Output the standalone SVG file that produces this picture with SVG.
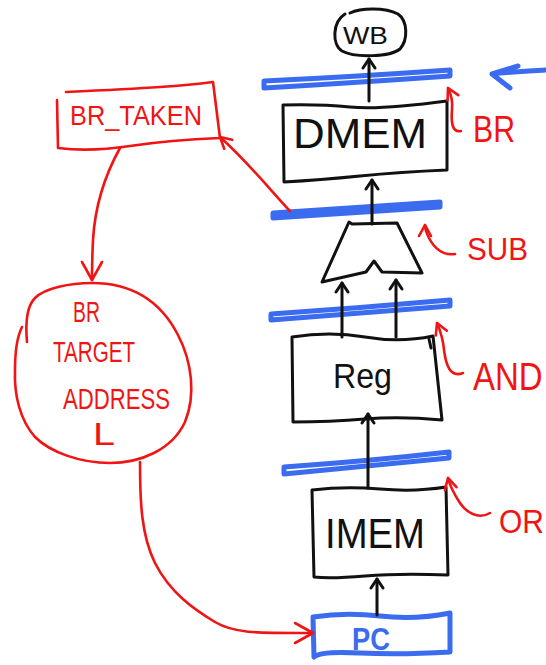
<svg xmlns="http://www.w3.org/2000/svg" width="546" height="665" viewBox="0 0 546 665">
  <style>
    .ink { fill: none; stroke: #111; stroke-width: 3; stroke-linecap: round; stroke-linejoin: round; }
    .red { fill: none; stroke: #f01414; stroke-width: 2.6; stroke-linecap: round; stroke-linejoin: round; }
    .blue { fill: none; stroke: #3b6cf0; stroke-width: 5; stroke-linecap: round; stroke-linejoin: round; }
    .bar { fill: #fff; stroke: #3b6cf0; stroke-width: 5; stroke-linejoin: round; }
    .t { font-family: "Liberation Sans", Arial, sans-serif; }
    .tk { fill: #111; }
    .tr { fill: #f01414; }
    .tb { fill: #3b6cf0; font-weight: bold; }
  </style>
  <defs>
    <marker id="ah-k" viewBox="-12 -9 15 18" refX="0" refY="0" markerWidth="15" markerHeight="18" markerUnits="userSpaceOnUse" orient="auto">
      <path d="M-9,-6 L0,0 L-9,6" fill="none" stroke="#111" stroke-width="3" stroke-linecap="round" stroke-linejoin="round"/>
    </marker>
    <marker id="ah-r" viewBox="-22 -13 25 26" refX="0" refY="0" markerWidth="25" markerHeight="26" markerUnits="userSpaceOnUse" orient="auto">
      <path d="M-18,-10 L0,0 L-18,10" fill="none" stroke="#f01414" stroke-width="2.6" stroke-linecap="round" stroke-linejoin="round"/>
    </marker>
    <marker id="ah-rs" viewBox="-14 -9 17 18" refX="0" refY="0" markerWidth="17" markerHeight="18" markerUnits="userSpaceOnUse" orient="auto">
      <path d="M-11,-6 L0,0 L-11,6" fill="none" stroke="#f01414" stroke-width="2.6" stroke-linecap="round" stroke-linejoin="round"/>
    </marker>
  </defs>

  <!-- pipeline registers -->
  <g id="pipe-reg-1"><path class="bar" d="M264,81 Q350,77 450,70 L450,76 Q350,83 264,88 Z"/></g>
  <g id="pipe-reg-2"><path class="bar" d="M273,213 Q360,207 440,202 L440,207 Q360,212 273,218 Z"/></g>
  <g id="pipe-reg-3"><path class="bar" d="M271,314 Q360,308 450,300 L450,306 Q360,313 271,320 Z"/></g>
  <g id="pipe-reg-4"><path class="bar" d="M284,467 Q370,461 449,452 L449,458 Q370,466 284,474 Z"/></g>

  <!-- write-back -->
  <g id="wb">
    <path class="ink" d="M350,13 C360,8 385,7 398,14 C408,21 408,40 400,49 C390,57 355,58 342,51 C332,45 332,22 345,14"/>
    <text class="t tk" x="343" y="44" font-size="23" textLength="45" lengthAdjust="spacingAndGlyphs">WB</text>
  </g>

  <!-- data memory -->
  <g id="dmem">
    <path class="ink" d="M283,105 Q320,104 350,107 T447,101 L447,170 Q400,172 360,176 T284,182 Z"/>
    <text class="t tk" x="293" y="148" font-size="42" textLength="134" lengthAdjust="spacingAndGlyphs">DMEM</text>
  </g>

  <!-- ALU -->
  <g id="alu">
    <path class="ink" d="M349,222 L352,224 L397,223 L422,273 L382,272 L374,261 L366,272 L322,282 Z"/>
  </g>

  <!-- register file -->
  <g id="reg">
    <path class="ink" d="M292,337 Q330,331 365,337 T433,336 L442,420 Q400,416 365,419 T293,422 Z"/>
    <path class="ink" d="M429,339 L431,348"/>
    <text class="t tk" x="333" y="388" font-size="35" textLength="59" lengthAdjust="spacingAndGlyphs">Reg</text>
  </g>

  <!-- instruction memory -->
  <g id="imem">
    <path class="ink" d="M312,490 Q345,486 380,489 T446,487 L448,575 Q400,573 365,576 T314,577 Z"/>
    <text class="t tk" x="325" y="548" font-size="42" textLength="100" lengthAdjust="spacingAndGlyphs">IMEM</text>
  </g>

  <!-- program counter -->
  <g id="pc">
    <path class="blue" d="M313,617 Q345,612 380,616 T450,613 L450,652 Q400,655 360,653 T314,657 Z"/>
    <text class="t tb" x="352" y="650" font-size="31" textLength="38" lengthAdjust="spacingAndGlyphs">PC</text>
  </g>

  <!-- branch taken -->
  <g id="br-taken">
    <path class="red" d="M57,100 L58,148 Q90,152 130,146 T220,138 L213,82 Q190,85 160,87 T66,92"/>
    <text class="t tr" x="70" y="125" font-size="28" textLength="132" lengthAdjust="spacingAndGlyphs">BR_TAKEN</text>
  </g>

  <!-- branch target address -->
  <g id="br-target">
    <path class="red" d="M27,342 C25,320 28,305 35,298 C45,288 70,283 92,283 C130,283 160,300 178,335 C192,362 196,395 185,422 C172,450 140,463 110,463 C80,463 50,452 35,437 C20,420 14,395 15,370 C15,350 18,335 22,327"/>
    <text class="t tr" x="73" y="322" font-size="29" textLength="27" lengthAdjust="spacingAndGlyphs">BR</text>
    <text class="t tr" x="53" y="362" font-size="29" textLength="82" lengthAdjust="spacingAndGlyphs">TARGET</text>
    <text class="t tr" x="63" y="409" font-size="30" textLength="107" lengthAdjust="spacingAndGlyphs">ADDRESS</text>
    <text class="t tr" x="93" y="445" font-size="32" textLength="22" lengthAdjust="spacingAndGlyphs">L</text>
  </g>

  <!-- stage labels -->
  <g id="label-br"><text class="t tr" x="473" y="142" font-size="36" textLength="42" lengthAdjust="spacingAndGlyphs">BR</text></g>
  <g id="label-sub"><text class="t tr" x="467" y="260" font-size="31" textLength="61" lengthAdjust="spacingAndGlyphs">SUB</text></g>
  <g id="label-and"><text class="t tr" transform="translate(473,390) scale(1,1.18)" font-size="33">AND</text></g>
  <g id="label-or"><text class="t tr" transform="translate(499,533) scale(1,1.1)" font-size="30">OR</text></g>

  <!-- connectors -->
  <g id="connectors">
    <path class="ink" d="M369,101 L369,59" marker-end="url(#ah-k)"/>
    <path class="ink" d="M372,224 L372,180" marker-end="url(#ah-k)"/>
    <path class="ink" d="M342,337 L342,283" marker-end="url(#ah-k)"/>
    <path class="ink" d="M396,337 L396,280" marker-end="url(#ah-k)"/>
    <path class="ink" d="M368,488 L368,414" marker-end="url(#ah-k)"/>
    <path class="ink" d="M377,615 L377,579" marker-end="url(#ah-k)"/>

    <path class="red" d="M120,148 C105,175 95,205 93,240 C92,260 92,270 92,280" marker-end="url(#ah-r)"/>
    <path class="red" d="M290,211 C272,192 248,162 220,137" marker-end="url(#ah-rs)"/>
    <path class="red" d="M140,462 C140,500 141,535 155,563 C170,593 195,610 215,622 C235,634 260,633 313,633" marker-end="url(#ah-r)"/>

    <path class="red" d="M461,131 C452,133 451,122 452,110 C453,100 451,94 448,88" marker-end="url(#ah-rs)"/>
    <path class="red" d="M455,254 C443,256 434,248 429,238 C426,232 425,228 425,225" marker-end="url(#ah-rs)"/>
    <path class="red" d="M463,373 C450,378 446,365 444,350 C443,338 440,330 437,323" marker-end="url(#ah-rs)"/>
    <path class="red" d="M490,513 C478,520 466,512 460,503 C454,494 450,486 448,478" marker-end="url(#ah-rs)"/>

    <path class="blue" d="M546,70 C530,71 510,72 492,74 M518,66 L492,74 L510,88"/>
  </g>
</svg>
